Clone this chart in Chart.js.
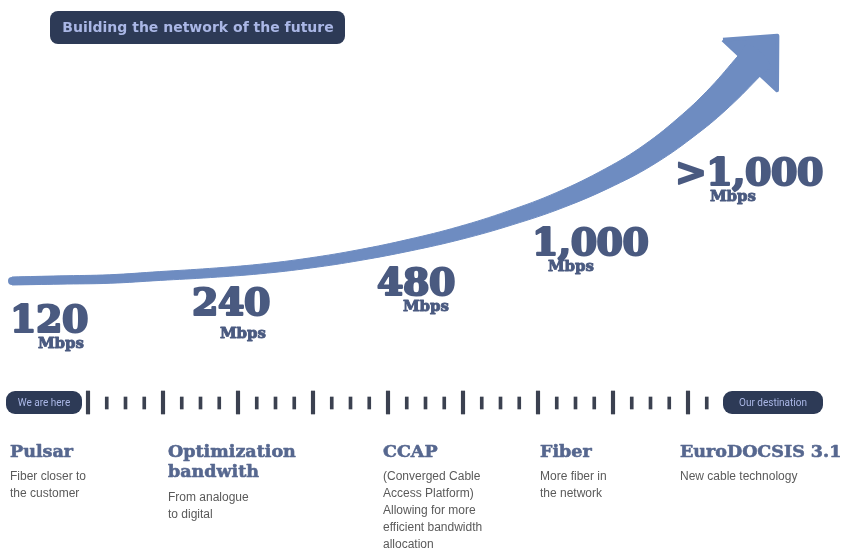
<!DOCTYPE html>
<html>
<head>
<meta charset="utf-8">
<script src="https://cdn.jsdelivr.net/npm/chart.js@4.4.0/dist/chart.umd.min.js"></script>
<style>
  html, body { margin: 0; padding: 0; background: #fff; }
  #wrap { width: 845px; height: 550px; }
</style>
</head>
<body>
<div id="wrap"><canvas id="roadmap" width="845" height="550"></canvas></div>
<script>
// --- content ---
const heading = 'Building the network of the future';
const speeds = ['120', '240', '480', '1,000', '>1,000'];
const speedUnit = 'Mbps';
const milestones = [['Pulsar'], ['Optimization', 'bandwith'], ['CCAP'], ['Fiber'], ['EuroDOCSIS 3.1']];
const descriptions = [
  ['Fiber closer to', 'the customer'],
  ['From analogue', 'to digital'],
  ['(Converged Cable', 'Access Platform)', 'Allowing for more', 'efficient bandwidth', 'allocation'],
  ['More fiber in', 'the network'],
  ['New cable technology']
];
const timelineStart = 'We are here';
const timelineEnd = 'Our destination';

// --- layout (chart units, 1 unit = 1px) ---
const arrowX = [12, 60, 110, 160, 210, 260, 310, 360, 410, 460, 510, 560, 610, 650, 690, 720, 750];
const arrowY = [281, 280, 279, 276, 273, 269, 263, 255, 245, 233, 218, 200, 177, 154, 124, 97, 65];
const speedAt = [[10, 332], [192, 315], [377, 295], [532, 255], [675, 185]];
const unitAt = [[38, 348], [220, 338], [403, 311], [548, 271], [710, 201]];
const columnX = [10, 168, 383, 540, 680];

const C = {
  arrow: '#6e8cc1',
  number: '#4a5a80',
  title: '#56678f',
  desc: '#5a5a5a',
  pill: '#2d3a56',
  pillText: '#aab7e6',
  tick: '#3b4150'
};

const curve = arrowX.map((x, i) => ({ x, y: arrowY[i] }));

// direction of the last piece of the curve
const end = curve[curve.length - 1], prev = curve[curve.length - 2];
let dx = end.x - prev.x, dy = end.y - prev.y;
const dl = Math.hypot(dx, dy); dx /= dl; dy /= dl;

// arrow body: centre line widened into a tapered outline,
// run a little past the head base so the turn is hidden under the head
const spine = curve.concat([{ x: end.x + dx * 14, y: end.y + dy * 14 }]);
const x0 = arrowX[0], x1 = arrowX[arrowX.length - 1];
const bodyWidth = x => {
  const t = Math.min((x - x0) / (x1 - x0), 1);
  return 8 + 4 * t + 18 * Math.pow(t, 4);
};
const upper = [], lower = [];
spine.forEach((p, i) => {
  const a = spine[Math.max(i - 1, 0)], b = spine[Math.min(i + 1, spine.length - 1)];
  let nx = b.x - a.x, ny = b.y - a.y;
  const l = Math.hypot(nx, ny); nx /= l; ny /= l;
  const h = bodyWidth(p.x) / 2;
  upper.push({ x: p.x + ny * h, y: p.y - nx * h });
  lower.push({ x: p.x - ny * h, y: p.y + nx * h });
});
const outline = upper.concat(lower.slice().reverse());

// arrow head
const headLen = 40, headHalf = 37;
const head = [
  { x: end.x + dy * headHalf, y: end.y - dx * headHalf },
  { x: end.x + dx * headLen, y: end.y + dy * headLen },
  { x: end.x - dy * headHalf, y: end.y + dx * headHalf },
  { x: end.x + dy * headHalf, y: end.y - dx * headHalf }
];

// timeline ticks, every fourth one long
const tickStart = 88, tickStep = 18.75, tickCount = 34;
const tickXs = Array.from({ length: tickCount }, (_, i) => tickStart + i * tickStep);
const majorTicks = tickXs.filter((_, i) => i % 4 === 0).map(x => ({ x, y: [391, 414] }));
const minorTicks = tickXs.filter((_, i) => i % 4 !== 0).map(x => ({ x, y: [397, 409] }));

function pill(ctx, x, y, w, h, text, font) {
  ctx.fillStyle = C.pill;
  ctx.beginPath();
  ctx.roundRect(x, y, w, h, Math.min(h / 2, 9));
  ctx.fill();
  ctx.fillStyle = C.pillText;
  ctx.font = font;
  ctx.textAlign = 'center';
  ctx.textBaseline = 'middle';
  ctx.fillText(text, x + w / 2, y + h / 2 + 1);
}

// heavy slab text: fill plus a thin stroke in the same colour
function slab(ctx, text, x, y, size, weight) {
  ctx.font = 'bold ' + size + 'px "DejaVu Serif"';
  ctx.lineWidth = weight;
  ctx.lineJoin = 'round';
  ctx.strokeText(text, x, y);
  ctx.fillText(text, x, y);
}

const textLayer = {
  id: 'textLayer',
  afterDatasetsDraw(chart) {
    const { ctx, scales: { x, y } } = chart;
    const px = v => x.getPixelForValue(v);
    const py = v => y.getPixelForValue(v);
    ctx.save();

    // heading badge
    ctx.fillStyle = C.pill;
    ctx.beginPath();
    ctx.roundRect(px(50), py(11), px(345) - px(50), py(44) - py(11), 8);
    ctx.fill();
    ctx.fillStyle = C.pillText;
    ctx.font = 'bold 14px "DejaVu Sans"';
    ctx.textAlign = 'center';
    ctx.textBaseline = 'middle';
    ctx.fillText(heading, px(198), py(28));

    // speed labels
    ctx.textAlign = 'left';
    ctx.textBaseline = 'alphabetic';
    ctx.fillStyle = C.number;
    ctx.strokeStyle = C.number;
    speeds.forEach((s, i) => {
      ctx.letterSpacing = '-0.5px';
      slab(ctx, s, px(speedAt[i][0]), py(speedAt[i][1]), 38, 2.2);
      ctx.letterSpacing = '0px';
      slab(ctx, speedUnit, px(unitAt[i][0]), py(unitAt[i][1]), 15, 0.9);
    });

    // timeline end caps
    pill(ctx, px(6), py(391), px(82) - px(6), py(414) - py(391), timelineStart, '10px Roboto');
    pill(ctx, px(723), py(391), px(823) - px(723), py(414) - py(391), timelineEnd, '10px Roboto');

    // milestone columns
    ctx.textAlign = 'left';
    ctx.textBaseline = 'alphabetic';
    milestones.forEach((lines, i) => {
      ctx.fillStyle = C.title;
      ctx.strokeStyle = C.title;
      lines.forEach((t, j) => slab(ctx, t, px(columnX[i]), py(457 + j * 20), 17.5, 0.6));
      ctx.fillStyle = C.desc;
      ctx.font = '12px "Liberation Sans"';
      const top = 480 + (lines.length - 1) * 21;
      descriptions[i].forEach((t, j) => ctx.fillText(t, px(columnX[i]), py(top + j * 17)));
    });

    ctx.restore();
  }
};

new Chart(document.getElementById('roadmap'), {
  type: 'line',
  data: {
    datasets: [
      {
        // tapered body
        data: outline,
        borderColor: C.arrow,
        backgroundColor: C.arrow,
        borderWidth: 1,
        fill: 'shape',
        tension: 0.4,
        pointRadius: 0
      },
      {
        // rounded tail along the centre line
        data: curve.slice(0, 5),
        borderColor: C.arrow,
        borderWidth: 8,
        borderCapStyle: 'round',
        cubicInterpolationMode: 'monotone',
        pointRadius: 0
      },
      {
        data: head,
        borderColor: C.arrow,
        backgroundColor: C.arrow,
        borderWidth: 4,
        borderJoinStyle: 'round',
        fill: 'shape',
        tension: 0,
        pointRadius: 0
      },
      {
        type: 'bar',
        data: majorTicks,
        backgroundColor: C.tick,
        barThickness: 3.5,
        grouped: false
      },
      {
        type: 'bar',
        data: minorTicks,
        backgroundColor: C.tick,
        barThickness: 3,
        grouped: false
      }
    ]
  },
  options: {
    responsive: false,
    animation: false,
    layout: { padding: 0 },
    plugins: { legend: { display: false }, tooltip: { enabled: false } },
    scales: {
      x: { type: 'linear', min: 0, max: 845, offset: false, display: false },
      y: { type: 'linear', min: 0, max: 550, reverse: true, display: false }
    }
  },
  plugins: [textLayer]
});
</script>
</body>
</html>
